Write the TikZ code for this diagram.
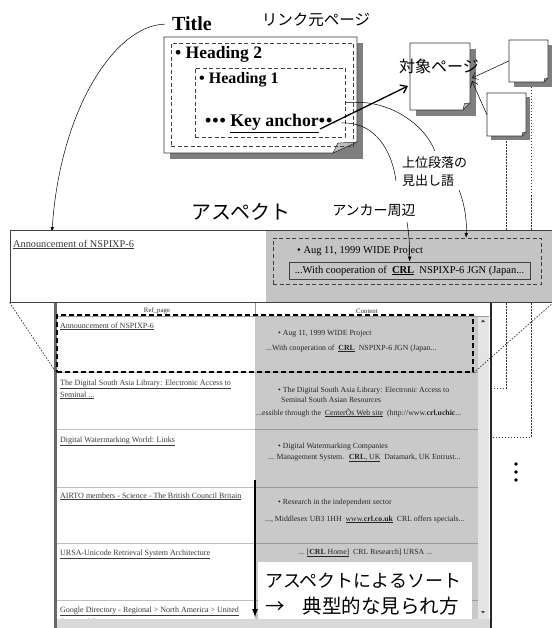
\documentclass[tikz,border=0pt]{standalone}
\usepackage{fontspec}
\setmainfont{Liberation Serif}
\newfontfamily\jp{Noto Sans CJK JP}
\usetikzlibrary{arrows.meta}
\definecolor{shadowgray}{HTML}{7F7F7F}
\definecolor{foldgray}{HTML}{BDBDBD}
\definecolor{bandgray}{HTML}{C4C4C4}
\definecolor{colgray}{HTML}{C9C9C9}
\definecolor{sbgray}{HTML}{E4E4E4}
\definecolor{linkgray}{HTML}{3A3A3A}
\newcommand\fs[1]{\fontsize{#1}{#1}\selectfont}
\newcommand\drawpage[7]{%
  \fill[shadowgray] (#1+#7,#2+#7) rectangle (#3+#7,#4+#7);
  \filldraw[pagebox] (#1,#2) -- (#3,#2) -- (#3,#4-#6) -- (#3-#5,#4) -- (#1,#4) -- cycle;
  \filldraw[foldtri] (#3,#4-#6) -- (#3-#5,#4) -- (#3-0.8*#5,#4-0.9*#6) -- cycle;}
\begin{document}
\begin{tikzpicture}[x=1pt,y=-1pt,
  pagebox/.style={draw=black!80, fill=white, line width=0.6pt},
  foldtri/.style={draw=black!80, fill=foldgray, line width=0.5pt},
  dashbox/.style={draw=black!75, line width=0.7pt, dash pattern=on 4pt off 2.5pt, inner sep=0},
  jptext/.style={inner sep=0},
  serifbase/.style={anchor=base west, inner sep=0},
  tcell/.style={anchor=base west, inner sep=0, font=\fs{7.8}, text=black!85},
  tlink/.style={tcell, font=\fs{8}, text=linkgray},
  barb/.style={-{Straight Barb[length=5pt,width=8pt]}},
  smallhead/.style={-{Latex[length=5pt,width=3.5pt]}},
  dotline/.style={draw=black!80, line width=0.7pt, dash pattern=on 1.5pt off 1.5pt}]
\useasboundingbox (0,0) rectangle (551,628);
\fill[white] (0,0) rectangle (551,628);

% ---------- top: source page ----------
\node[serifbase, font=\bfseries\fs{20}] (title) at (172,31) {Title};
\node[jptext, font=\jp\fs{15.5}] (srclbl) at (316,20) {リンク元ページ};
\drawpage{164}{37}{357}{153}{24}{11}{6}
\node[dashbox, minimum width=182, minimum height=103] (h2box) at (262,94.5) {};
\node[dashbox, minimum width=150, minimum height=69] (h1box) at (270,102.5) {};
\node[draw=black!80, double, double distance=1.2pt, line width=0.5pt, minimum width=141, minimum height=22, inner sep=0] (keybox) at (270.5,123) {};
\node[serifbase, font=\bfseries\fs{17.5}] (h2text) at (175,59) {\textbullet\ Heading 2};
\node[serifbase, font=\bfseries\fs{16}] (h1text) at (199,84) {\textbullet\ Heading 1};
\node[serifbase, font=\bfseries\fs{17.8}] (keytext) at (205,127) {\textbullet\kern1pt\textbullet\kern1pt\textbullet\ \underline{Key anchor}\textbullet\kern1pt\textbullet};

% ---------- target and other pages ----------
\drawpage{410}{43}{470}{110}{7}{7}{6}
\node[inner sep=0, minimum width=60, minimum height=67] (tgt) at (440,76.5) {};
\node[jptext, font=\jp\fs{16}] (tgtlbl) at (439,66) {対象ページ};

\coordinate (startA) at (531,87);
\coordinate (tipA) at (480,437);
\coordinate (tipB) at (480,388);
\draw[dotline, -{Latex[length=5pt,width=4pt]}] (startA) |- (tipA);
\drawpage{509}{40}{548}{82}{4}{4}{5}
\node[inner sep=0, minimum width=39, minimum height=42] (pa) at (528.5,61) {};
\drawpage{487}{93}{526}{136}{4}{4}{4}
\node[inner sep=0, minimum width=39, minimum height=43] (pb) at (506.5,114.5) {};
\draw[dotline, -{Latex[length=5pt,width=4pt]}] ([yshift=-5pt]pb.south) |- (tipB);

\coordinate (tgtA) at (472,78);
\coordinate (tgtB) at (472,81);
\draw[line width=0.5pt, barb] (pa.west) -- (tgtA);
\draw[line width=0.5pt, barb] (pb.west) -- (tgtB);

\coordinate (keyfrom) at (320,129);
\coordinate (keyto) at (408,86);
\draw[line width=1.3pt, -{Straight Barb[length=6pt,width=9pt]}] (keyfrom) -- (keyto);

% ---------- callout labels ----------
\node[jptext, font=\jp\fs{13}, anchor=west] (lbl1) at (402,163) {上位段落の};
\node[jptext, font=\jp\fs{13}, anchor=west] (lbl2) at (402,181) {見出し語};
\draw[line width=0.5pt] (h1box.east) -- ++(7,0) .. controls (390,100) and (425,125) .. ([yshift=6pt]lbl1.north);
\draw[line width=0.5pt] (keybox.east) -- ++(5,0) .. controls (375,124) and (392,150) .. ([xshift=-6pt]lbl2.west);

\node[jptext, font=\jp\fs{20}] (aspect) at (241,212) {アスペクト};
\node[jptext, font=\jp\fs{14}] (anc) at (374,210) {アンカー周辺};

\draw[line width=0.5pt, smallhead] ([xshift=-7pt]title.west) .. controls (115,25) and (60,110) .. (52,232);

% ---------- aspect band ----------
\fill[white] (10,230) rectangle (553,302);
\fill[bandgray] (266,230) rectangle (553,302);
\node[draw=black!75, line width=0.9pt, minimum width=543, minimum height=72, inner sep=0] (band) at (281.5,266) {};
\node[serifbase, font=\fs{10.3}, text=linkgray] (bandref) at (13,247) {\underline{Announcement of NSPIXP-6}};
\node[dashbox, minimum width=268, minimum height=46] (headbox) at (407,261) {};
\node[serifbase, font=\fs{10.5}] (bandhead) at (297,253) {\textbullet\ Aug 11, 1999 WIDE Project};
\node[draw=black!75, line width=0.7pt, minimum width=241, minimum height=17, inner sep=0, font=\fs{10.5}] (ancbox) at (409.5,270.5) {...With cooperation of \ \underline{\textbf{CRL}}\ \ NSPIXP-6 JGN (Japan...};

\coordinate (ancfrom) at (407,222);
\draw[line width=0.5pt, smallhead] (ancfrom) .. controls (409,235) and (410,248) .. (ancbox.north);
\coordinate (lblfrom) at (459,190);
\coordinate (headtip) at (466,238);
\draw[line width=0.5pt, smallhead] (lblfrom) .. controls (465,205) and (467,222) .. (headtip);

% ---------- table screenshot ----------
\fill[white] (57,303) rectangle (490,628);
\fill[colgray] (255,316) rectangle (478,619);
\fill[sbgray] (478,316) rectangle (489,619);
\draw[black!40, line width=0.5pt] (57,316) -- (489,316);
\draw[black!40, line width=0.5pt] (255,303) -- (255,316);
\foreach \yy in {372,429,487,543,600} {
  \draw[black!25, line width=0.7pt] (57,\yy) -- (255,\yy);
  \draw[black!40, line width=0.8pt] (255,\yy) -- (478,\yy);
}
\fill[black!70] (481,322) -- (485,322) -- (483,319.5) -- cycle;
\fill[black!70] (481,611) -- (485,611) -- (483,613.5) -- cycle;

\node[inner sep=0, font=\fs{6.8}, text=black!80] (hdrref) at (157,311) {Ref\_page};
\node[inner sep=0, font=\fs{6.8}, text=black!80] (hdrcont) at (367,311) {Content};

\node[tlink] (l1) at (60,328) {\underline{Announcement of NSPIXP-6}};
\node[tlink] (l2a) at (60,385) {\underline{The Digital South Asia Library: Electronic Access to}};
\node[tlink] (l2b) at (60,397) {\underline{Seminal ...}};
\node[tlink] (l3) at (60,442) {\underline{Digital Watermarking World: Links}};
\node[tlink] (l4) at (60,498) {\underline{AIRTO members - Science - The British Council Britain}};
\node[tlink] (l5) at (60,555) {\underline{URSA-Unicode Retrieval System Architecture}};
\node[tlink] (l6a) at (60,612) {\underline{Google Directory - Regional > North America > United}};
\node[tlink] (l6b) at (60,624) {States > M...};

\node[tcell] (c1a) at (278,335) {\textbullet\ Aug 11, 1999 WIDE Project};
\node[tcell] (c1b) at (266,350) {...With cooperation of \ \underline{\textbf{CRL}}\ \ NSPIXP-6 JGN (Japan...};
\node[tcell] (c2a) at (278,392) {\textbullet\ The Digital South Asia Library: Electronic Access to};
\node[tcell] (c2b) at (281,402) {Seminal South Asian Resources};
\node[tcell] (c2c) at (256,415) {...essible through the \ \underline{CenterÕs Web site}\ \ (http://www.\textbf{crl.uchic}...};
\node[tcell] (c3a) at (278,448) {\textbullet\ Digital Watermarking Companies};
\node[tcell] (c3b) at (268,459) {... Management System. \ \underline{\textbf{CRL}, UK}\ \ Datamark, UK Entrust...};
\node[tcell] (c4a) at (278,504) {\textbullet\ Research in the independent sector};
\node[tcell] (c4b) at (265,521) {..., Middlesex UB3 1HH \ \underline{www.\textbf{crl.co.uk}}\ \ CRL offers specials...};
\node[tcell] (c5) at (298,554) {... \underline{[\textbf{CRL} Home]}\ \ CRL Research] URSA ...};

\fill[black!15] (57,619) rectangle (490,628);
\draw[black!60, line width=2.5pt] (55.5,303) -- (55.5,628);
\draw[black!85, line width=2pt] (490.5,303) -- (490.5,628);

\node[draw=black, line width=1.4pt, dash pattern=on 5pt off 3pt, minimum width=416, minimum height=57, inner sep=0] (row1box) at (265,343.5) {};

\node[fill=white, minimum width=214, minimum height=57, inner sep=0] (sortbox) at (365,590.5) {};
\node[jptext, font=\jp\fs{18}, anchor=west] (sort1) at (265,581) {アスペクトによるソート};
\node[jptext, font=\jp\fs{19.5}, anchor=west] (sort2) at (265,606) {→\hspace{18pt}典型的な見られ方};

\coordinate (sortfrom) at (255,480);
\coordinate (sortto) at (255,618);
\draw[line width=1.8pt, -{Latex[length=9pt,width=6pt]}] (sortfrom) -- (sortto);

\foreach \yy in {464,472,480} \fill (516,\yy) circle (1.8);

\draw[dotline] (band.south west) -- (row1box.south west);
\draw[dotline] (band.south east) -- (row1box.south east);
\end{tikzpicture}
\end{document}
